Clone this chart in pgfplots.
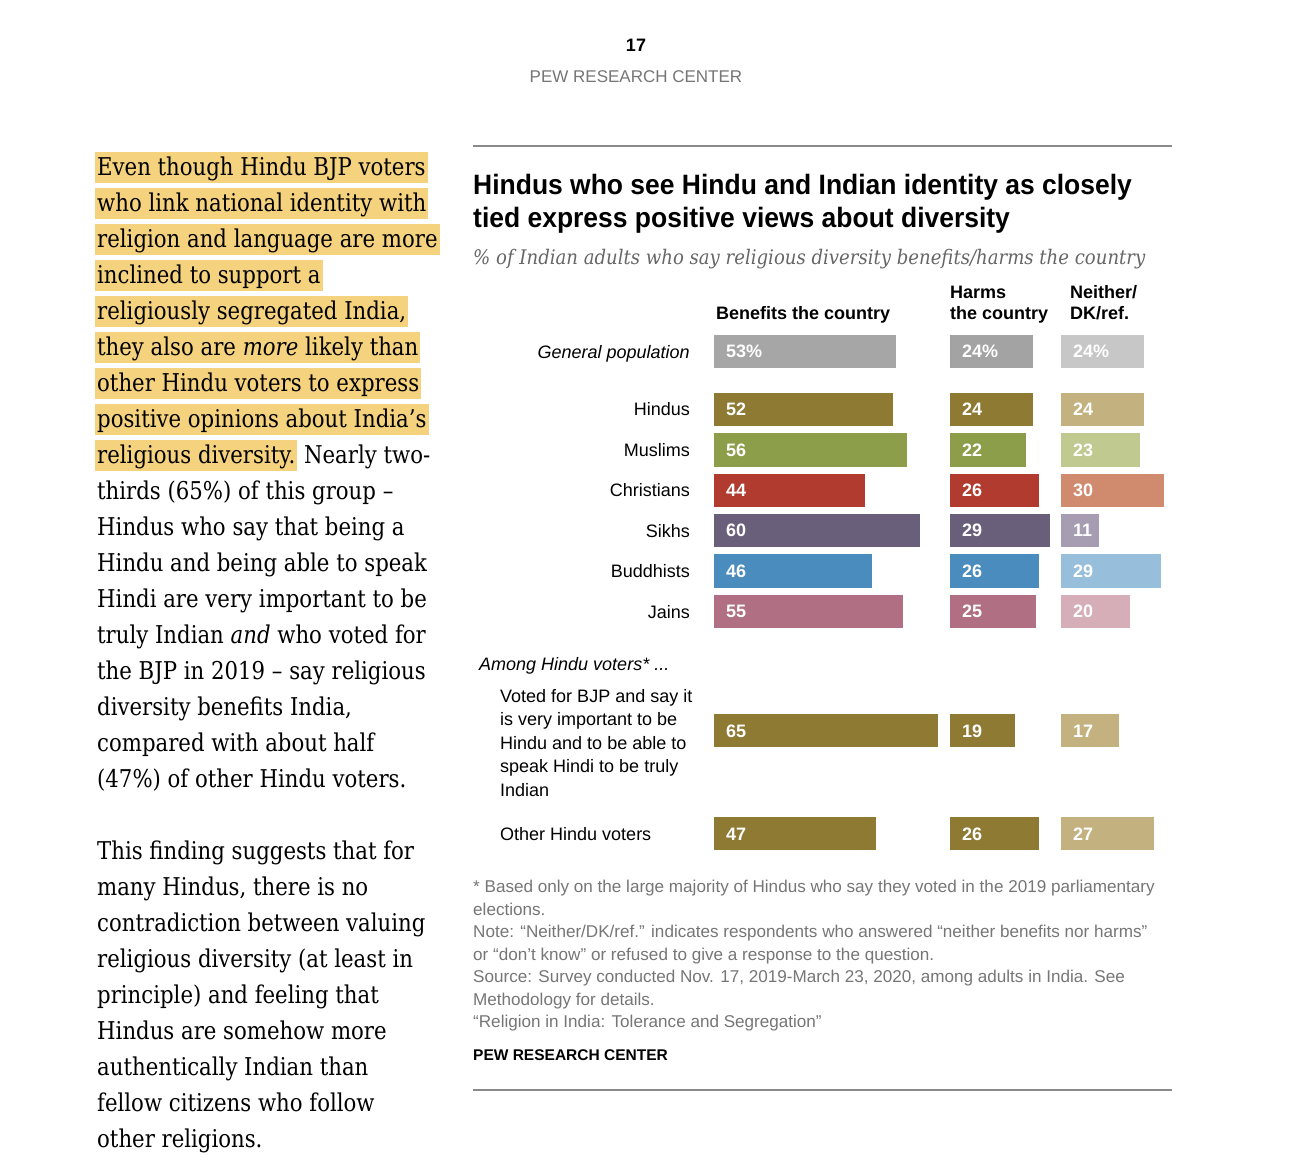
\documentclass[border=0pt]{standalone}
\usepackage{pgfplots}
\pgfplotsset{compat=1.18}
\usepackage{fontspec}
\setmainfont{Liberation Sans}
\newfontfamily\titlefont[FakeStretch=0.945]{Liberation Sans}
\newfontfamily\bodyserif[FakeStretch=0.867]{DejaVu Serif}
\newfontfamily\subserif[FakeStretch=0.9]{DejaVu Serif}

\definecolor{genB}{HTML}{A6A6A6}
\definecolor{genH}{HTML}{A3A3A3}
\definecolor{genN}{HTML}{C7C7C7}
\definecolor{hinD}{HTML}{8E7A33}
\definecolor{hinL}{HTML}{C3B27F}
\definecolor{musD}{HTML}{8C9E4A}
\definecolor{musL}{HTML}{BFC990}
\definecolor{chrD}{HTML}{B03B2E}
\definecolor{chrL}{HTML}{D08A6E}
\definecolor{sikD}{HTML}{6A5F7B}
\definecolor{sikL}{HTML}{A79DB2}
\definecolor{budD}{HTML}{4A8CBD}
\definecolor{budL}{HTML}{97BFDC}
\definecolor{jaiD}{HTML}{B06F82}
\definecolor{jaiL}{HTML}{D6AEB8}
\definecolor{hlyellow}{HTML}{F5D27D}
\definecolor{notegray}{HTML}{767676}
\definecolor{subgray}{HTML}{666666}
\definecolor{rulegray}{HTML}{8A8A8A}

\newcommand\bodyfont{\bodyserif\fontsize{24.5}{36}\selectfont}
\newcommand\chartfont{\fontsize{18}{18}\selectfont}
\newcommand\notefont{\fontsize{17.1}{17.1}\selectfont}
\newcommand\hl[1]{{\setlength{\fboxsep}{2pt}\colorbox{hlyellow}{\rule[-5.5pt]{0pt}{27pt}#1}}}
\newcommand\bl[2]{\node[anchor=base west, inner sep=0pt, font=\bodyfont, text=black] at (97pt,-#1pt) {#2};}
\newcommand\hlline[2]{\node[anchor=base west, inner sep=0pt, font=\bodyfont, text=black] at (95pt,-#1pt) {#2};}
\newcommand\nt[2]{\node[anchor=base west, inner sep=0pt, font=\notefont, text=notegray] at (473pt,-#1pt) {#2};}

\pgfplotsset{
  pew/.style={
    scale only axis, height=540pt,
    ymin=320, ymax=860, y dir=reverse,
    xmin=0,
    axis line style={draw=none},
    xtick=\empty, ytick=\empty,
    major tick length=0pt,
    clip=false,
    /pgf/number format/assume math mode=true,
    xbar, bar width=33.3,
    every axis plot/.append style={bar shift=0pt, draw=none},
    point meta=x,
    visualization depends on={rawx \as \rawx},
    nodes near coords,
    every node near coord/.append style={anchor=west, inner sep=0pt,
      xshift={12pt-\rawx*3.44pt}, text=white,
      font=\fontsize{18}{18}\selectfont\bfseries},
  }
}

\begin{document}
\begin{tikzpicture}
\path[use as bounding box, fill=white] (0,0) rectangle (1306pt,-1170pt);

% page header
\node[anchor=base, inner sep=0pt, font=\fontsize{18}{18}\selectfont\bfseries] at (636pt,-51pt) {17};
\node[anchor=base, inner sep=0pt, font=\fontsize{17}{17}\selectfont, text=notegray] at (636pt,-82.5pt) {PEW RESEARCH CENTER};

% left column
\hlline{175}{\hl{Even though Hindu BJP voters}}
\hlline{211}{\hl{who link national identity with}}
\hlline{247}{\hl{religion and language are more}}
\hlline{283}{\hl{inclined to support a}}
\hlline{319}{\hl{religiously segregated India,}}
\hlline{355}{\hl{they also are \textit{more} likely than}}
\hlline{391}{\hl{other Hindu voters to express}}
\hlline{427}{\hl{positive opinions about India’s}}
\hlline{463}{\hl{religious diversity.} Nearly two-}
\bl{499}{thirds (65\%) of this group –}
\bl{535}{Hindus who say that being a}
\bl{571}{Hindu and being able to speak}
\bl{607}{Hindi are very important to be}
\bl{643}{truly Indian \textit{and} who voted for}
\bl{679}{the BJP in 2019 – say religious}
\bl{715}{diversity benefits India,}
\bl{751}{compared with about half}
\bl{787}{(47\%) of other Hindu voters.}
\bl{859}{This finding suggests that for}
\bl{895}{many Hindus, there is no}
\bl{931}{contradiction between valuing}
\bl{967}{religious diversity (at least in}
\bl{1003}{principle) and feeling that}
\bl{1039}{Hindus are somehow more}
\bl{1075}{authentically Indian than}
\bl{1111}{fellow citizens who follow}
\bl{1147}{other religions.}

% chart frame and titles
\draw[rulegray, line width=1.2pt] (473pt,-146pt) -- (1172pt,-146pt);
\draw[rulegray, line width=1.2pt] (473pt,-1090pt) -- (1172pt,-1090pt);
\node[anchor=base west, inner sep=0pt, font=\titlefont\fontsize{28}{28}\selectfont\bfseries] at (473pt,-194pt) {Hindus who see Hindu and Indian identity as closely};
\node[anchor=base west, inner sep=0pt, font=\titlefont\fontsize{28}{28}\selectfont\bfseries] at (473pt,-227pt) {tied express positive views about diversity};
\node[anchor=base west, inner sep=0pt, font=\subserif\fontsize{20.1}{20.1}\selectfont\itshape, text=subgray] at (473pt,-264pt) {\% of Indian adults who say religious diversity benefits/harms the country};

% column headers
\node[anchor=base west, inner sep=0pt, font=\chartfont\bfseries] at (716pt,-319pt) {Benefits the country};
\node[anchor=base west, inner sep=0pt, font=\chartfont\bfseries] at (950pt,-298pt) {Harms};
\node[anchor=base west, inner sep=0pt, font=\chartfont\bfseries] at (950pt,-319pt) {the country};
\node[anchor=base west, inner sep=0pt, font=\chartfont\bfseries] at (1070pt,-298pt) {Neither/};
\node[anchor=base west, inner sep=0pt, font=\chartfont\bfseries] at (1070pt,-319pt) {DK/ref.};

% Hindu voter labels
\node[anchor=base west, inner sep=0pt, font=\chartfont\itshape] at (479pt,-670pt) {Among Hindu voters* ...};
\node[anchor=base west, inner sep=0pt, font=\chartfont] at (500pt,-702pt) {Voted for BJP and say it};
\node[anchor=base west, inner sep=0pt, font=\chartfont] at (500pt,-725.6pt) {is very important to be};
\node[anchor=base west, inner sep=0pt, font=\chartfont] at (500pt,-749.2pt) {Hindu and to be able to};
\node[anchor=base west, inner sep=0pt, font=\chartfont] at (500pt,-772.8pt) {speak Hindi to be truly};
\node[anchor=base west, inner sep=0pt, font=\chartfont] at (500pt,-796.4pt) {Indian};
\node[anchor=base west, inner sep=0pt, font=\chartfont] at (500pt,-840pt) {Other Hindu voters};

% Benefits the country
\begin{axis}[pew, at={(714pt,-320pt)}, anchor=north west,
  width=240.8pt, xmax=70,
  ytick={351.7,409.3,450,490.3,530.7,571,611.7},
  yticklabels={{\itshape General population},Hindus,Muslims,Christians,Sikhs,Buddhists,Jains},
  yticklabel style={anchor=east, inner sep=0pt, xshift=-24pt, font=\chartfont,
    text height=13pt, text depth=0pt},
]
\addplot[fill=genB, nodes near coords={\pgfmathprintnumber{\pgfplotspointmeta}\%}] coordinates {(53,351.7)};
\addplot[fill=hinD] coordinates {(52,409.3)};
\addplot[fill=musD] coordinates {(56,450)};
\addplot[fill=chrD] coordinates {(44,490.3)};
\addplot[fill=sikD] coordinates {(60,530.7)};
\addplot[fill=budD] coordinates {(46,571)};
\addplot[fill=jaiD] coordinates {(55,611.7)};
\addplot[fill=hinD] coordinates {(65,730.8)};
\addplot[fill=hinD] coordinates {(47,833.8)};
\end{axis}

% Harms the country
\begin{axis}[pew, at={(950pt,-320pt)}, anchor=north west,
  width=103.2pt, xmax=30]
\addplot[fill=genH, nodes near coords={\pgfmathprintnumber{\pgfplotspointmeta}\%}] coordinates {(24,351.7)};
\addplot[fill=hinD] coordinates {(24,409.3)};
\addplot[fill=musD] coordinates {(22,450)};
\addplot[fill=chrD] coordinates {(26,490.3)};
\addplot[fill=sikD] coordinates {(29,530.7)};
\addplot[fill=budD] coordinates {(26,571)};
\addplot[fill=jaiD] coordinates {(25,611.7)};
\addplot[fill=hinD] coordinates {(19,730.8)};
\addplot[fill=hinD] coordinates {(26,833.8)};
\end{axis}

% Neither/DK/ref.
\begin{axis}[pew, at={(1061pt,-320pt)}, anchor=north west,
  width=103.2pt, xmax=30]
\addplot[fill=genN, nodes near coords={\pgfmathprintnumber{\pgfplotspointmeta}\%}] coordinates {(24,351.7)};
\addplot[fill=hinL] coordinates {(24,409.3)};
\addplot[fill=musL] coordinates {(23,450)};
\addplot[fill=chrL] coordinates {(30,490.3)};
\addplot[fill=sikL] coordinates {(11,530.7)};
\addplot[fill=budL] coordinates {(29,571)};
\addplot[fill=jaiL] coordinates {(20,611.7)};
\addplot[fill=hinL] coordinates {(17,730.8)};
\addplot[fill=hinL] coordinates {(27,833.8)};
\end{axis}

% notes
\nt{892.5}{* Based only on the large majority of Hindus who say they voted in the 2019 parliamentary}
\nt{915}{elections.}
\nt{937.5}{Note: “Neither/DK/ref.” indicates respondents who answered “neither benefits nor harms”}
\nt{960}{or “don’t know” or refused to give a response to the question.}
\nt{982.5}{Source: Survey conducted Nov. 17, 2019-March 23, 2020, among adults in India. See}
\nt{1005}{Methodology for details.}
\nt{1027.5}{“Religion in India: Tolerance and Segregation”}
\node[anchor=base west, inner sep=0pt, font=\fontsize{15.5}{15.5}\selectfont\bfseries] at (473pt,-1060pt) {PEW RESEARCH CENTER};
\end{tikzpicture}
\end{document}
